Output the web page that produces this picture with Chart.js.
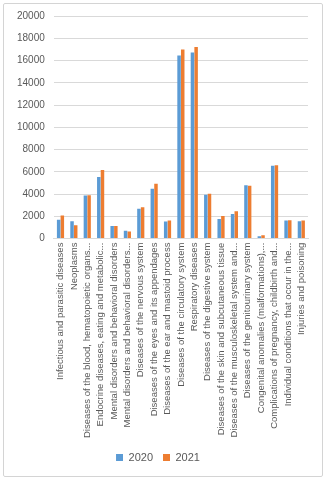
<!DOCTYPE html>
<html>
<head>
<meta charset="utf-8">
<script src="https://cdn.jsdelivr.net/npm/chart.js@4"></script>
<style>
  body { margin: 0; background: #fff; }
  #wrap { position: relative; width: 325px; height: 480px; }
  #frame {
    position: absolute; left: 3px; top: 3px; width: 318px; height: 472px;
    border: 1px solid #d4d4d4; border-radius: 2px; pointer-events: none;
  }
</style>
</head>
<body>
<div id="wrap">
  <canvas id="chart"></canvas>
  <div id="frame"></div>
</div>
<script>
// categories (labels cut the way the original chart shows them)
const categories = [
  "Infectious and parasitic diseases",
  "Neoplasms",
  "Diseases of the blood, hematopoietic organs...",
  "Endocrine diseases, eating and metabolic...",
  "Mental disorders and behavioral disorders",
  "Mental disorders and behavioral disorders...",
  "Diseases of the nervous system",
  "Diseases of the eyes and its appendages",
  "Diseases of the ear and mastoid process",
  "Diseases of the circulatory system",
  "Respiratory diseases",
  "Diseases of the digestive system",
  "Diseases of the skin and subcutaneous tissue",
  "Diseases of the musculoskeletal system and...",
  "Diseases of the genitourinary system",
  "Congenital anomalies (malformations),...",
  "Complications of pregnancy, childbirth and...",
  "Individual conditions that occur in the...",
  "Injuries and poisoning",
];

const values2020 = [1700, 1560, 3880, 5530, 1130, 700, 2690, 4470, 1530, 16450,
  16720, 3940, 1770, 2200, 4800, 210, 6540, 1620, 1560];
const values2021 = [2080, 1190, 3900, 6170, 1130, 640, 2810, 4930, 1620, 17000,
  17220, 4040, 2020, 2450, 4740, 300, 6600, 1660, 1620];

const yTicks = { min: 0, max: 20000, step: 2000 };

const textColor = "#595959";
const fontFamily = "'Liberation Sans', Arial, sans-serif";

new Chart(document.getElementById("chart"), {
  type: "bar",
  data: {
    labels: categories,
    datasets: [
      {
        label: "2020",
        data: values2020,
        backgroundColor: "#5B9BD5",
        categoryPercentage: 0.55,
        barPercentage: 0.95,
      },
      {
        label: "2021",
        data: values2021,
        backgroundColor: "#ED7D31",
        categoryPercentage: 0.55,
        barPercentage: 0.95,
      },
    ],
  },
  options: {
    responsive: true,
    maintainAspectRatio: false,
    animation: false,
    layout: { padding: { left: 8, right: 17, top: 16, bottom: 7 } },
    plugins: {
      tooltip: { enabled: false },
      legend: {
        position: "bottom",
        labels: {
          color: textColor,
          font: { family: fontFamily, size: 11 },
          boxWidth: 7,
          boxHeight: 7,
          padding: 10,
        },
      },
    },
    scales: {
      x: {
        grid: { display: false, drawTicks: false },
        border: { color: "#d9d9d9" },
        ticks: {
          autoSkip: false,
          minRotation: 90,
          maxRotation: 90,
          padding: 4,
          color: textColor,
          font: { family: fontFamily, size: 9.5 },
        },
      },
      y: {
        min: yTicks.min,
        max: yTicks.max,
        grid: { color: "#d9d9d9", drawTicks: false },
        border: { display: false },
        ticks: {
          stepSize: yTicks.step,
          padding: 9,
          color: textColor,
          font: { family: fontFamily, size: 10 },
          callback: (v) => String(v),
        },
      },
    },
  },
});
</script>
</body>
</html>
